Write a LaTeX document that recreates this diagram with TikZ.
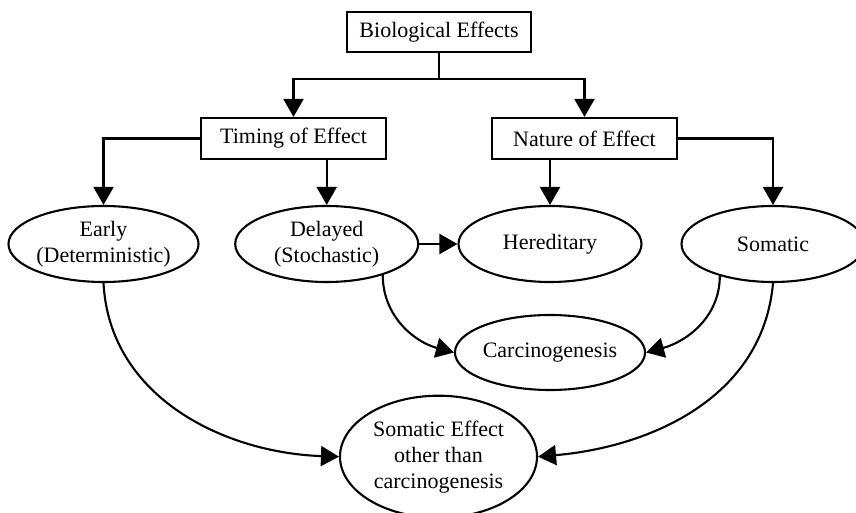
\documentclass[tikz,border=0pt]{standalone}
\usepackage{fontspec}
\setmainfont{Liberation Serif}
\usetikzlibrary{shapes.geometric,arrows.meta}
\begin{document}
\begin{tikzpicture}[x=1pt,y=1pt,
  every node/.style={font=\fontsize{22}{26}\selectfont},
  box/.style={draw,line width=2.1pt,minimum width=185pt,minimum height=41pt,inner sep=0pt},
  ell/.style={draw,ellipse,line width=2.1pt,minimum width=183pt,minimum height=76pt,inner sep=0pt,align=center},
  conn/.style={line width=2.1pt,-{Triangle[length=18pt,width=20pt]}}]
\clip (0,0) rectangle (856,-513);
\node[box,minimum width=184pt,minimum height=40pt] (bio) at (439,-32) {Biological Effects};
\node[box] (timing) at (293.5,-138.5) {Timing of Effect};
\node[box] (nature) at (584.5,-138.5) {Nature of Effect};
\node[ell] (early) at (103.5,-244) {Early\\(Deterministic)};
\node[ell] (delayed) at (326.7,-244) {Delayed\\(Stochastic)};
\node[ell] (hered) at (550,-244) {Hereditary};
\node[ell] (somatic) at (773,-244) {Somatic};
\node[ell,minimum height=75pt] (carc) at (550,-352.5) {Carcinogenesis};
\node[ell,minimum width=197pt,minimum height=122pt] (soe) at (438.5,-456.7) {Somatic Effect\\other than\\carcinogenesis};
\draw[conn] (bio.south) -- ++(0,-26) -| (timing.north);
\draw[conn] (bio.south) -- ++(0,-26) -| (nature.north);
\draw[conn] (timing.west) -| (early.north);
\draw[conn] (timing.south -| delayed.north) -- (delayed.north);
\draw[conn] (nature.south -| hered.north) -- (hered.north);
\draw[conn] (nature.east) -| (somatic.north);
\draw[conn] (delayed.east) -- (hered.west);
\draw[conn] (delayed.-29) to[out=-90,in=165] (carc.west);
\draw[conn] (somatic.-149) to[out=-90,in=15] (carc.east);
\draw[conn] (early.south) to[out=-87,in=178] (soe.west);
\draw[conn] (somatic.south) to[out=-95,in=5] (soe.east);
\end{tikzpicture}
\end{document}
